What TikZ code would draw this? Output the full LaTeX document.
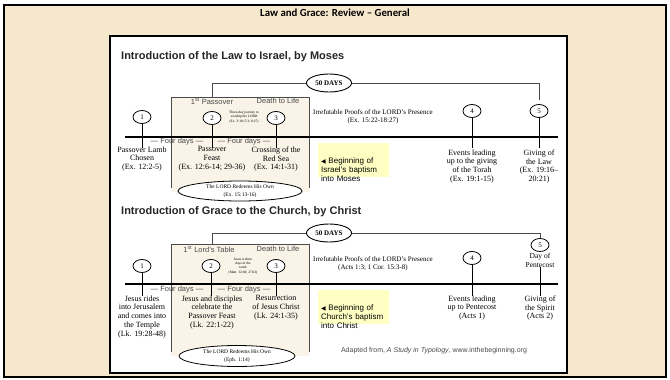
\documentclass[tikz,border=0pt]{standalone}
\usepackage{fontspec}
\setmainfont{Liberation Serif}
\setsansfont{Liberation Sans}
\newfontfamily\calibrifont{Carlito}
\newfontfamily\symbfont{DejaVu Sans}
\usetikzlibrary{shapes.geometric}
\definecolor{parchment}{RGB}{246,232,204}
\definecolor{boxcream}{RGB}{249,243,232}
\definecolor{notecolor}{RGB}{255,255,196}
\definecolor{inkgray}{RGB}{75,75,75}
\tikzset{
  daynum/.style={draw,ellipse,line width=0.8pt,minimum width=18pt,minimum height=13pt,inner sep=0pt,fill=white,font=\fontsize{7}{7}\selectfont},
  fiftydays/.style={draw,ellipse,line width=0.9pt,minimum width=45pt,minimum height=18pt,inner sep=0pt,fill=white,font=\bfseries\fontsize{7}{7}\selectfont},
  redeem/.style={draw,ellipse,line width=0.8pt,fill=white,inner sep=0pt,align=center,font=\fontsize{5.5}{7.5}\selectfont},
  evtext/.style={anchor=north,align=center,inner sep=0pt,font=\fontsize{8}{8.8}\selectfont},
  fourdays/.style={inner sep=0pt,text=inkgray,font=\sffamily\fontsize{7.5}{8}\selectfont},
  boxhead/.style={inner sep=0pt,text=inkgray,font=\sffamily\fontsize{7.5}{8}\selectfont},
  tinynote/.style={align=center,inner sep=0pt,font=\fontsize{3.5}{4.2}\selectfont},
  proof/.style={align=center,inner sep=0pt,font=\fontsize{7}{8}\selectfont},
  baptism/.style={anchor=north west,fill=notecolor,align=left,inner sep=3pt,text width=65pt,minimum height=34pt,text depth=0pt,font=\sffamily\fontsize{8}{9}\selectfont},
  daytick/.style={line width=0.6pt},
  timeline/.style={line width=2.8pt},
  linkline/.style={draw=inkgray,line width=0.7pt},
  sectitle/.style={anchor=west,inner sep=0pt,text=black!85,font=\sffamily\bfseries\fontsize{11}{12}\selectfont},
}
\begin{document}
\begin{tikzpicture}[x=1pt,y=-1pt]
  \useasboundingbox (0,0) rectangle (670,380);
  \filldraw[fill=parchment,draw=black,line width=1.5pt] (4,5) rectangle (666,377);
  \node[font=\calibrifont\bfseries\fontsize{10.8}{12}\selectfont] (heading) at (335,13) {Law and Grace: Review – General};
  \filldraw[fill=white,draw=black,line width=1.6pt] (110,36) rectangle (567,373);

  % --- the Law to Israel ---
  \node[sectitle] (title1) at (121,57) {Introduction of the Law to Israel, by Moses};
  \fill[boxcream] (171,97) rectangle (309,192);
  \draw[inkgray,line width=0.6pt] (171,188) -- (171,97) -- (309,97) -- (309,188);
  \node[fiftydays] (days1) at (329,83) {50 DAYS};
  \coordinate (top1) at (212,97);
  \coordinate (end1) at (539,100);
  \draw[linkline] (days1.west) -| (top1);
  \draw[linkline] (days1.east) -| (end1);
  \node[boxhead] (passover1) at (212,101) {1\textsuperscript{st} Passover};
  \node[boxhead] (life1) at (278,101) {Death to Life};
  \node[daynum] (a1) at (142,117) {1};
  \node[daynum] (a2) at (212,118) {2};
  \node[daynum] (a3) at (276,118) {3};
  \node[daynum] (a4) at (472,111) {4};
  \node[daynum] (a5) at (539,111) {5};
  \node[tinynote] (journey1) at (244,117) {Three-day journey to\\worship the LORD\\(Ex. 3:18; 5:3; 8:27)};
  \coordinate (start1) at (125,137);
  \coordinate (stop1) at (558,137);
  \draw[timeline] (start1) -- (stop1);
  \foreach \n in {a1,a2,a3,a4,a5}
    \draw[daytick] (\n.south) -- (\n.south |- 0,148);
  \node[fourdays] (four1a) at (177,142) {— Four days —};
  \node[fourdays] (four1b) at (244,142) {— Four days —};
  \node[evtext] (lamb1) at (142,146.4) {Passover Lamb\\Chosen\\(Ex. 12:2-5)};
  \node[evtext] (feast1) at (212,146.4) {Passover\\Feast\\(Ex. 12:6-14; 29-36)};
  \node[evtext] (sea1) at (276,146.4) {Crossing of the\\Red Sea\\(Ex. 14:1-31)};
  \node[baptism] (israel1) at (318,143) {{\symbfont\fontsize{6}{9}\selectfont ◀} Beginning of\\Israel's baptism\\into Moses};
  \node[proof] (proofs1) at (373,117) {Irrefutable Proofs of the LORD's Presence\\(Ex. 15:22-18:27)};
  \node[evtext] (torah1) at (472,149.4) {Events leading\\up to the giving\\of the Torah\\(Ex. 19:1-15)};
  \node[evtext] (law1) at (539,149.4) {Giving of\\the Law\\(Ex. 19:16–\\20:21)};
  \node[redeem,minimum width=124pt,minimum height=20pt] (own1) at (240,191) {The LORD Redeems His Own\\(Ex. 15:13-16)};

  % --- Grace to the Church ---
  \node[sectitle] (title2) at (121,212) {Introduction of Grace to the Church, by Christ};
  \fill[boxcream] (171,244) rectangle (309,356);
  \draw[inkgray,line width=0.6pt] (171,352) -- (171,244) -- (309,244) -- (309,352);
  \node[fiftydays] (days2) at (329,233) {50 DAYS};
  \coordinate (top2) at (212,244);
  \coordinate (end2) at (540,238);
  \draw[linkline] (days2.west) -| (top2);
  \draw[linkline] (days2.east) -| (end2);
  \node[boxhead] (table2) at (209,249) {1\textsuperscript{st} Lord's Table};
  \node[boxhead] (life2) at (278,249) {Death to Life};
  \node[daynum] (b1) at (142,266) {1};
  \node[daynum] (b2) at (211,266) {2};
  \node[daynum] (b3) at (276,266) {3};
  \node[daynum] (b4) at (472,258) {4};
  \node[daynum] (b5) at (540,245) {5};
  \node[tinynote] (tomb2) at (243,266) {Jesus is three\\days in the\\tomb\\(Matt. 12:40; 27:63)};
  \node[evtext,font=\fontsize{7.5}{8.6}\selectfont] (pentecost2) at (540,253) {Day of\\Pentecost};
  \coordinate (start2) at (125,284);
  \coordinate (stop2) at (558,284);
  \draw[timeline] (start2) -- (stop2);
  \foreach \n in {b1,b2,b3,b4}
    \draw[daytick] (\n.south) -- (\n.south |- 0,296);
  \draw[daytick] (pentecost2.south) -- (pentecost2.south |- 0,296);
  \node[fourdays] (four2a) at (177,290) {— Four days —};
  \node[fourdays] (four2b) at (244,290) {— Four days —};
  \node[evtext] (ride2) at (142,295.4) {Jesus rides\\into Jerusalem\\and comes into\\the Temple\\(Lk. 19:28-48)};
  \node[evtext] (supper2) at (212,295.4) {Jesus and disciples\\celebrate the\\Passover Feast\\(Lk. 22:1-22)};
  \node[evtext] (rise2) at (276,295.4) {Resurrection\\of Jesus Christ\\(Lk. 24:1-35)};
  \node[baptism] (church2) at (318,290) {{\symbfont\fontsize{6}{9}\selectfont ◀} Beginning of\\Church's baptism\\into Christ};
  \node[proof] (proofs2) at (373,264) {Irrefutable Proofs of the LORD's Presence\\(Acts 1:3; 1 Cor. 15:3-8)};
  \node[evtext] (events2) at (472,295.4) {Events leading\\up to Pentecost\\(Acts 1)};
  \node[evtext] (spirit2) at (540,295.4) {Giving of\\the Spirit\\(Acts 2)};
  \node[redeem,minimum width=116pt,minimum height=21pt] (own2) at (237,356) {The LORD Redeems His Own\\(Eph. 1:14)};
  \node[inner sep=0pt,text=inkgray,font=\sffamily\fontsize{7}{8}\selectfont] (source) at (434,351) {Adapted from, \textit{A Study in Typology}, www.inthebeginning.org};
\end{tikzpicture}
\end{document}
